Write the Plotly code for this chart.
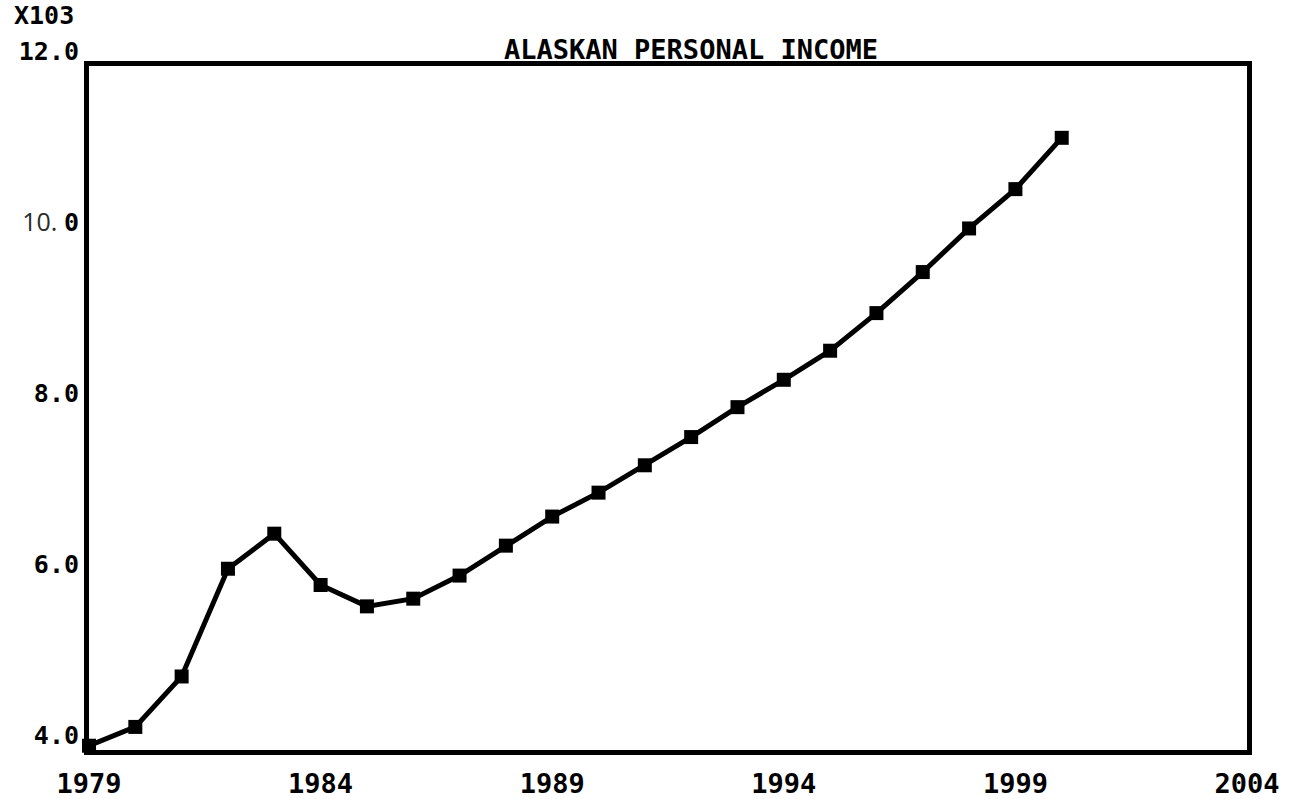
import plotly.graph_objects as go

# Alaskan personal income (thousands), 1979-2000
years = [1979, 1980, 1981, 1982, 1983, 1984, 1985, 1986, 1987, 1988, 1989,
         1990, 1991, 1992, 1993, 1994, 1995, 1996, 1997, 1998, 1999, 2000]
income = [4.05, 4.27, 4.86, 6.12, 6.53, 5.93, 5.68, 5.77, 6.04, 6.39, 6.73,
          7.01, 7.33, 7.66, 8.01, 8.33, 8.67, 9.11, 9.59, 10.10, 10.56, 11.16]

x_ticks = [1979, 1984, 1989, 1994, 1999, 2004]
x_labels = ["1979", "1984", "1989", "1994", "1999", "2004"]
y_ticks = [4.0, 6.0, 8.0, 10.0, 12.0]
y_labels = ["4.0", "6.0", "8.0",
            "<span style=\"font-family:'Open Sans';font-weight:400;color:#2a2a2a\">10. </span>0",
            "12.0"]

MONO = "DejaVu Sans Mono"

fig = go.Figure()
fig.add_trace(go.Scatter(
    x=years, y=income, mode="lines+markers",
    line=dict(color="black", width=5),
    marker=dict(symbol="square", size=14, color="black"),
    cliponaxis=False, showlegend=False,
))

fig.update_layout(
    width=1295, height=799,
    margin=dict(l=89, r=48, t=66, b=49, autoexpand=False),
    paper_bgcolor="white", plot_bgcolor="white",
    font=dict(family=MONO, color="black"),
    title=dict(
        text="<b>ALASKAN PERSONAL INCOME</b>",
        font=dict(family=MONO, size=27, color="black"),
        x=691 / 1295, xanchor="center",
        y=1 - 50 / 799, yanchor="middle",
        automargin=False,
    ),
    xaxis=dict(
        range=[1979, 2004], tickvals=x_ticks, ticktext=[f"<b>{t}</b>" for t in x_labels],
        ticks="", showgrid=False, zeroline=False, automargin=False,
        showline=True, linecolor="black", linewidth=5, mirror=True,
        tickfont=dict(family=MONO, size=27, color="black"),
        ticklabelstandoff=6,
    ),
    yaxis=dict(
        range=[4, 12], tickvals=y_ticks, ticktext=[f"<b>{t}</b>" for t in y_labels],
        ticks="", showgrid=False, zeroline=False, automargin=False,
        showline=True, linecolor="black", linewidth=5, mirror=True,
        tickfont=dict(family=MONO, size=25, color="black"),
        ticklabelshift=-15, ticklabelstandoff=0,
    ),
    annotations=[
        dict(text="<b>X103</b>", xref="paper", yref="paper",
             x=-77 / 1158, y=1 + 50 / 684, xanchor="left", yanchor="middle",
             showarrow=False, font=dict(family=MONO, size=25, color="black")),
    ],
)

fig.write_html("out.html")
